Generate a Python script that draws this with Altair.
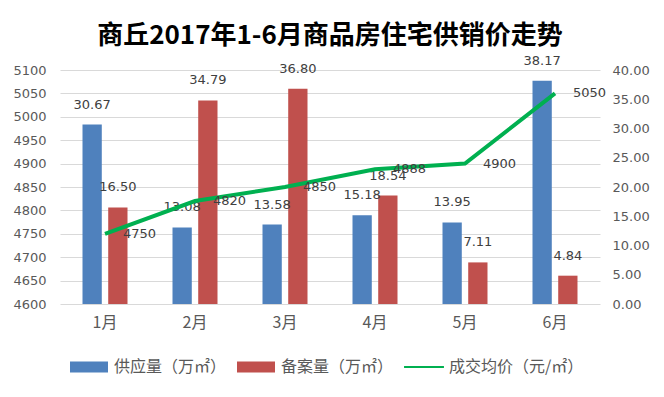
import altair as alt
import pandas as pd

months = ["1月", "2月", "3月", "4月", "5月", "6月"]
supply = [30.67, 13.08, 13.58, 15.18, 13.95, 38.17]
filed = [16.50, 34.79, 36.80, 18.54, 7.11, 4.84]
price = [4750, 4820, 4850, 4888, 4900, 5050]
series = ["供应量（万㎡）", "备案量（万㎡）", "成交均价（元/㎡）"]
colors = ["#4f81bd", "#c0504d", "#00b050"]
left_ticks = [4600, 4650, 4700, 4750, 4800, 4850, 4900, 4950, 5000, 5050, 5100]
right_ticks = [0, 5, 10, 15, 20, 25, 30, 35, 40]

bars_df = pd.DataFrame({
    "month": months * 2,
    "series": [series[0]] * 6 + [series[1]] * 6,
    "value": supply + filed,
})
price_df = pd.DataFrame({"month": months, "series": series[2], "price": price})

num_font = "DejaVu Sans"
cjk_font = "Noto Sans CJK SC"

x = alt.X(
    "month:N", sort=months,
    scale=alt.Scale(paddingInner=0.5, paddingOuter=0.25),
    axis=alt.Axis(title=None, labelAngle=0, ticks=False, domain=False,
                  labelFont=cjk_font, labelFontSize=16, labelColor="#595959",
                  labelPadding=10, grid=False),
)
xoff = alt.XOffset("series:N", sort=series[:2], scale=alt.Scale(paddingInner=0.25))

color_scale = alt.Scale(domain=series, range=colors)
shape_scale = alt.Scale(domain=series, range=[
    "M-1,-0.29H1V0.29H-1Z", "M-1,-0.29H1V0.29H-1Z", "M-1.05,-0.05H1.05V0.05H-1.05Z"])

legend = alt.Legend(
    title=None, orient="none", legendX=10, legendY=278, direction="horizontal",
    symbolSize=1444, symbolOpacity=1, symbolStrokeWidth=0,
    labelFont=cjk_font, labelFontSize=16, labelColor="#595959",
    labelOffset=6, columnPadding=10,
)

y_right_scale = alt.Scale(domain=[0, 40], nice=False, zero=True)
right_axis = alt.Axis(
    orient="right", values=right_ticks, format=".2f", grid=False, ticks=False,
    domain=False, title=None, labelPadding=12, labelFont=num_font,
    labelFontSize=13, labelColor="#595959", labelOverlap=False)

bars = alt.Chart(bars_df).mark_bar().encode(
    x=x, xOffset=xoff,
    y=alt.Y("value:Q", scale=y_right_scale, axis=right_axis),
    color=alt.Color("series:N", scale=color_scale, legend=legend),
)
bar_labels = alt.Chart(bars_df).mark_text(
    dy=-20, baseline="middle", font=num_font, fontSize=13, color="#404040"
).encode(
    x=x, xOffset=xoff, y=alt.Y("value:Q", scale=y_right_scale, axis=right_axis),
    text=alt.Text("value:Q", format=".2f"),
)

y_left_scale = alt.Scale(domain=[4600, 5100], nice=False, zero=False)
left_axis = alt.Axis(
    orient="left", values=left_ticks, format="d", grid=True, gridColor="#d9d9d9",
    ticks=False, domain=False, title=None, labelPadding=14, labelFont=num_font,
    labelFontSize=13, labelColor="#595959", labelOverlap=False)

line = alt.Chart(price_df).mark_line(color="#00b050", strokeWidth=4).encode(
    x=x, y=alt.Y("price:Q", scale=y_left_scale, axis=left_axis))
line_labels = alt.Chart(price_df).mark_text(
    align="left", dx=18, baseline="middle", font=num_font, fontSize=13, color="#404040"
).encode(x=x, y=alt.Y("price:Q", scale=y_left_scale, axis=left_axis),
         text=alt.Text("price:Q"))
legend_pts = alt.Chart(price_df).mark_point(filled=True, size=0, opacity=0).encode(
    x=x, y=alt.Y("price:Q", scale=y_left_scale, axis=left_axis),
    color=alt.Color("series:N", scale=color_scale, legend=legend),
    shape=alt.Shape("series:N", scale=shape_scale, legend=legend),
)

left_group = alt.layer(bars, bar_labels)
right_group = alt.layer(line, line_labels, legend_pts)

chart = alt.layer(left_group, right_group).resolve_scale(y="independent").properties(
    width=540, height=234,
    autosize="none",
    padding={"left": 52, "top": 62, "right": 50, "bottom": 80},
    background="white",
    title=alt.TitleParams(
        "商丘2017年1-6月商品房住宅供销价走势", font=cjk_font, fontSize=26,
        fontWeight="bold", color="#000000", anchor="middle", offset=6),
).configure_view(stroke=None)

chart.save("out.html", embed_options={"renderer": "svg", "actions": False})
